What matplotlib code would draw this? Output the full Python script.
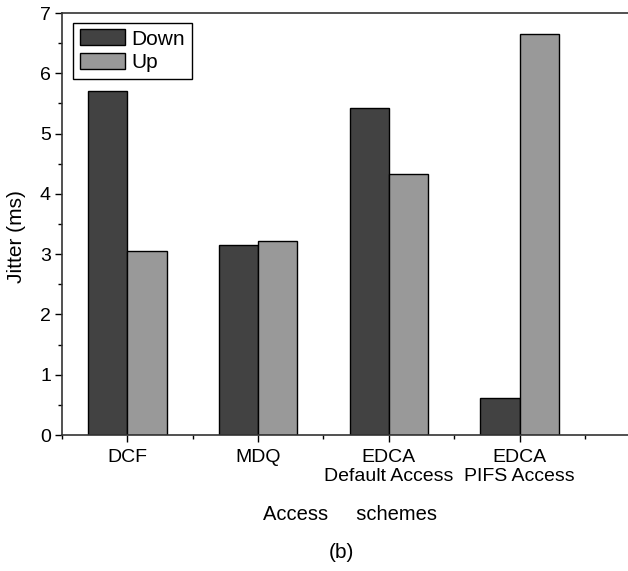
import numpy as np
import matplotlib.pyplot as plt
from matplotlib.ticker import MultipleLocator

plt.rcParams['font.family'] = ['Liberation Sans', 'DejaVu Sans']

schemes = ['DCF', 'MDQ', 'EDCA\nDefault Access', 'EDCA\nPIFS Access']
down = [5.70, 3.15, 5.43, 0.61]
up = [3.05, 3.21, 4.33, 6.65]

fig = plt.figure(figsize=(6.28, 5.71), dpi=100)
ax = fig.add_axes([62 / 628, 1 - 435 / 571, 1 - 62 / 628, (435 - 13) / 571])

x = np.arange(len(schemes))
w = 0.3
ax.bar(x - w / 2, down, w, color='#424242', edgecolor='black', linewidth=1, label='Down')
ax.bar(x + w / 2, up, w, color='#999999', edgecolor='black', linewidth=1, label='Up')

ax.set_xlim(-0.5, 3.83)
ax.set_ylim(0, 7)
ax.set_xticks(x)
ax.set_xticklabels(schemes, fontsize=14, linespacing=1.2)
ax.xaxis.set_minor_locator(MultipleLocator(1, offset=0.5))
ax.yaxis.set_major_locator(MultipleLocator(1))
ax.yaxis.set_minor_locator(MultipleLocator(0.5))
ax.tick_params(axis='both', which='major', direction='out', length=5, width=1)
ax.tick_params(axis='both', which='minor', direction='out', length=3, width=1)
ax.tick_params(axis='x', pad=5)
ax.tick_params(axis='y', pad=3, labelsize=14)
ax.spines['right'].set_visible(False)
for s in ['left', 'bottom', 'top']:
    ax.spines[s].set_linewidth(1.2)
    ax.spines[s].set_color('#333333')

ax.set_ylabel('Jitter (ms)', fontsize=15)
ax.yaxis.set_label_coords(-0.063, 0.47)

leg = ax.legend(loc='upper left', bbox_to_anchor=(0.02, 0.976), fontsize=15,
                fancybox=False, framealpha=1, edgecolor='black',
                handlelength=2.2, handleheight=0.8, borderpad=0.3,
                labelspacing=0.22, handletextpad=0.3, borderaxespad=0)
leg.get_frame().set_linewidth(1)

fig.text(350 / 628, 1 - 515 / 571, 'Access     schemes', fontsize=14.5, ha='center', va='center')
fig.text(341 / 628, 1 - 552 / 571, '(b)', fontsize=15, ha='center', va='center')

fig.savefig('out.png', dpi=100)
